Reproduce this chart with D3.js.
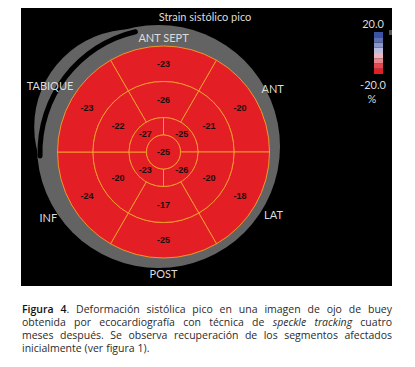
<!DOCTYPE html>
<html>
<head>
<meta charset="utf-8">
<script src="https://cdn.jsdelivr.net/npm/d3@7"></script>
<style>
  body { margin: 0; background: #fff; }
  svg { display: block; }
</style>
</head>
<body>
<div id="chart"></div>
<script>
// segment values, clockwise starting at 12 o'clock
const walls = ["ANT SEPT", "ANT", "LAT", "POST", "INF", "TABIQUE"];
const basal = [-23, -20, -18, -25, -24, -23];
const mid = [-26, -21, -20, -17, -20, -22];
const apical = [-25, -26, -23, -27];
const apex = [-25];

const scaleLimits = [-20, 20];
const scaleLabels = ["-20.0", "20.0"];
const scaleColors = ["#e31e24", "#e4484f", "#e8858c", "#ebb6bd", "#bcbcde", "#8c96c9", "#5d70b6", "#3b52a5"];
const scaleUnit = "%";
const title = "Strain sistólico pico";

const caption = [
  [{t: "Figura 4", w: 600}, {t: ". Deformación sistólica pico en una imagen de ojo de buey"}],
  [{t: "obtenida por ecocardiografía con técnica de "}, {t: "speckle tracking", i: true}, {t: " cuatro"}],
  [{t: "meses después. Se observa recuperación de los segmentos afectados"}],
  [{t: "inicialmente (ver figura 1)."}]
];

const W = 415, H = 367;
const cx = 163.5, cy = 152;
const ringR = [0, 17, 34.5, 70.5, 106];
const labelR = [114, 126, 127, 122, 133, 131];

const svg = d3.select("#chart").append("svg")
  .attr("width", W)
  .attr("height", H);

svg.append("rect")
  .attr("x", 21).attr("y", 8)
  .attr("width", 371).attr("height", 278)
  .attr("fill", "#000");

// gray rim behind the bullseye, with a bulge on the upper left
svg.append("circle")
  .attr("cx", 158.5).attr("cy", 146.5).attr("r", 121.5)
  .attr("fill", "#636363");
svg.append("circle")
  .attr("cx", 131.8).attr("cy", 126.9).attr("r", 97.6)
  .attr("fill", "#636363");

// black gap splitting the rim (upper left)
const gapArc = d3.arc()
  .innerRadius(121)
  .outerRadius(126)
  .startAngle(-93 * Math.PI / 180)
  .endAngle(-12 * Math.PI / 180)
  .cornerRadius(2.5);
svg.append("path")
  .attr("transform", `translate(${cx},${cy})`)
  .attr("d", gapArc())
  .attr("fill", "#000");

const color = d3.scaleQuantize().domain(scaleLimits).range(scaleColors);

const g = svg.append("g").attr("transform", `translate(${cx},${cy})`);

const rings = [
  {vals: basal, r0: ringR[3], r1: ringR[4], off: -Math.PI / 6},
  {vals: mid, r0: ringR[2], r1: ringR[3], off: -Math.PI / 6},
  {vals: apical, r0: ringR[1], r1: ringR[2], off: 0},
  {vals: apex, r0: ringR[0], r1: ringR[1], off: 0}
];

const arc = d3.arc();

rings.forEach(ring => {
  const n = ring.vals.length;
  const ang = d3.scaleLinear().domain([0, n]).range([ring.off, ring.off + 2 * Math.PI]);
  const segs = ring.vals.map((v, i) => ({
    v,
    innerRadius: ring.r0,
    outerRadius: ring.r1,
    startAngle: ang(i),
    endAngle: ang(i + 1)
  }));
  g.selectAll(null)
    .data(segs)
    .join("path")
    .attr("d", arc)
    .attr("fill", d => color(d.v))
    .attr("stroke", "#f4a12c")
    .attr("stroke-width", 0.9);
  g.selectAll(null)
    .data(segs)
    .join("text")
    .attr("x", d => n === 1 ? 0 : arc.centroid(d)[0])
    .attr("y", d => n === 1 ? 0 : arc.centroid(d)[1])
    .attr("dy", "0.35em")
    .attr("text-anchor", "middle")
    .attr("font-family", "'Liberation Sans', Arial, sans-serif")
    .attr("font-weight", "bold")
    .attr("font-size", 9)
    .attr("fill", "#1a0d0d")
    .text(d => d.v);
});

// wall names around the rim
const wallAng = d3.scaleLinear().domain([0, walls.length]).range([0, 2 * Math.PI]);
g.selectAll(null)
  .data(walls)
  .join("text")
  .attr("x", (d, i) => labelR[i] * Math.sin(wallAng(i)))
  .attr("y", (d, i) => -labelR[i] * Math.cos(wallAng(i)))
  .attr("dy", "0.36em")
  .attr("text-anchor", "middle")
  .attr("font-family", "Lato, 'Open Sans', sans-serif")
  .attr("font-size", 11)
  .attr("fill", "#dcdcdc")
  .text(d => d);

svg.append("text")
  .attr("x", 205).attr("y", 21)
  .attr("text-anchor", "middle")
  .attr("font-family", "Lato, 'Open Sans', sans-serif")
  .attr("font-size", 11)
  .attr("fill", "#dcdcdc")
  .text(title);

// color bar
const yBar = d3.scaleLinear().domain(scaleLimits).range([74, 32]);
const step = (scaleLimits[1] - scaleLimits[0]) / scaleColors.length;
svg.selectAll(null)
  .data(scaleColors)
  .join("rect")
  .attr("x", 374)
  .attr("width", 9)
  .attr("y", (d, i) => yBar(scaleLimits[0] + (i + 1) * step))
  .attr("height", (d, i) => yBar(scaleLimits[0] + i * step) - yBar(scaleLimits[0] + (i + 1) * step))
  .attr("fill", d => d);

svg.append("rect")
  .attr("x", 389).attr("y", 30).attr("width", 3).attr("height", 5)
  .attr("fill", "#555");

svg.selectAll(null)
  .data(scaleLimits)
  .join("text")
  .attr("x", 373)
  .attr("y", d => d > 0 ? yBar(d) - 4 : yBar(d) + 15)
  .attr("text-anchor", "middle")
  .attr("font-family", "Lato, 'Open Sans', sans-serif")
  .attr("font-size", 11)
  .attr("fill", "#dcdcdc")
  .text((d, i) => scaleLabels[i]);

svg.append("text")
  .attr("x", 372).attr("y", 103)
  .attr("text-anchor", "middle")
  .attr("font-family", "Lato, 'Open Sans', sans-serif")
  .attr("font-size", 11)
  .attr("fill", "#dcdcdc")
  .text(scaleUnit);

// caption, justified
const capX0 = 22, capX1 = 392, capY0 = 313, capLH = 13.1;
const capG = svg.append("g")
  .attr("font-family", "'Open Sans', sans-serif")
  .attr("font-size", 10.5)
  .attr("fill", "#2b2b2b");

caption.forEach((line, li) => {
  // split into words, keeping style; merge parts with no space between
  const words = [];
  let glue = false;
  line.forEach(part => {
    const toks = part.t.split(" ");
    toks.forEach((tok, k) => {
      if (tok === "") { glue = false; return; }
      const piece = {t: tok, w: part.w || 400, i: !!part.i};
      if (k === 0 && glue && words.length) words[words.length - 1].push(piece);
      else words.push([piece]);
      glue = true;
    });
    glue = !part.t.endsWith(" ");
  });
  const y = capY0 + li * capLH;
  const nodes = words.map(w => {
    const t = capG.append("text").attr("y", y);
    w.forEach(p => t.append("tspan")
      .attr("font-weight", p.w)
      .attr("font-style", p.i ? "italic" : "normal")
      .attr("fill", p.w > 400 ? "#111" : null)
      .text(p.t));
    return t;
  });
  const widths = nodes.map(n => n.node().getComputedTextLength());
  const total = d3.sum(widths);
  const last = li === caption.length - 1;
  const gapW = last ? 3 : (capX1 - capX0 - total) / (nodes.length - 1);
  let x = capX0;
  nodes.forEach((n, k) => {
    n.attr("x", x);
    x += widths[k] + gapW;
  });
});
</script>
</body>
</html>
